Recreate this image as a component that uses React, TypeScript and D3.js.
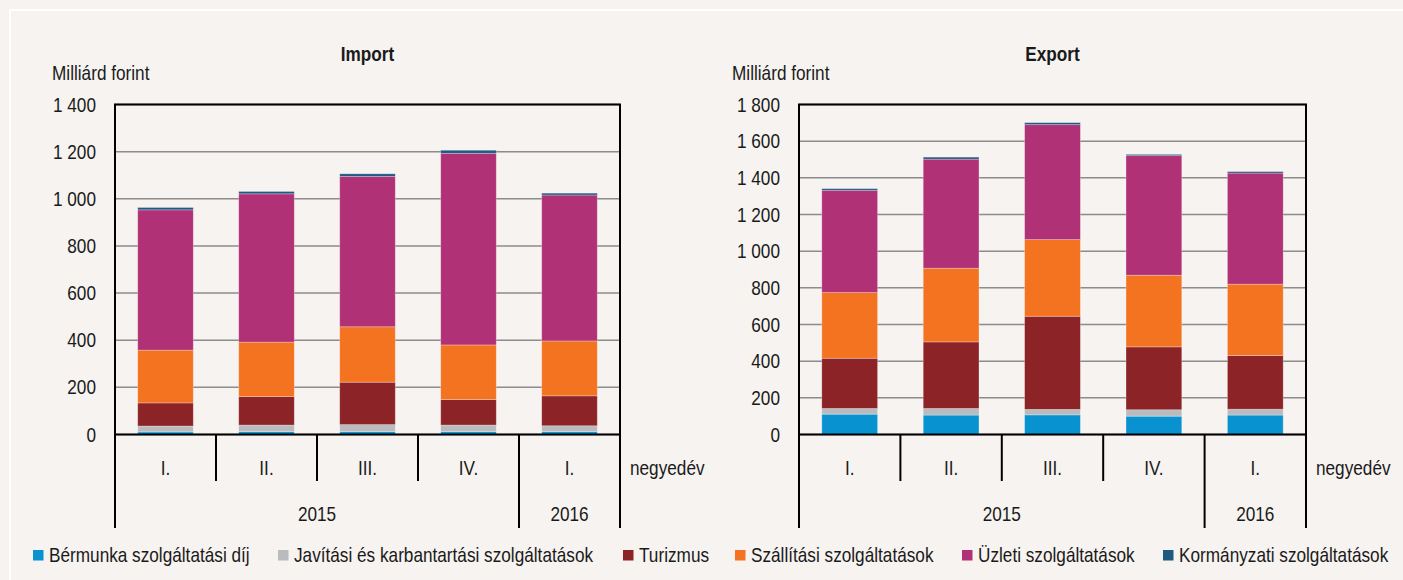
import React from 'react';
import * as d3 from 'd3';

// categories
const quarters = ['I.', 'II.', 'III.', 'IV.', 'I.'];
const years = ['2015', '2016'];
const yearSpans = [4, 1];

const seriesNames = [
  'Bérmunka szolgáltatási díj',
  'Javítási és karbantartási szolgáltatások',
  'Turizmus',
  'Szállítási szolgáltatások',
  'Üzleti szolgáltatások',
  'Kormányzati szolgáltatások',
];
const seriesColors = ['#0892d0', '#b9bbbe', '#8b2327', '#f37321', '#b03176', '#1f5a82'];

// Import, milliárd forint
const importBermunka = [11, 12, 12, 12, 12];
const importJavitasi = [25, 28, 30, 28, 25];
const importTurizmus = [98, 121, 180, 108, 127];
const importSzallitasi = [224, 231, 235, 232, 233];
const importUzleti = [595, 629, 638, 813, 619];
const importKormanyzati = [10, 10, 11, 13, 8];

// Export, milliárd forint
const exportBermunka = [111, 106, 107, 100, 106];
const exportJavitasi = [31, 36, 30, 35, 32];
const exportTurizmus = [274, 363, 508, 343, 293];
const exportSzallitasi = [358, 402, 418, 391, 389];
const exportUzleti = [558, 595, 627, 652, 606];
const exportKormanyzati = [9, 11, 11, 7, 8];

const importMax = 1400;
const exportMax = 1800;

const FONT = '"Liberation Sans", Arial, sans-serif';
const TEXT = '#1a1a1a';
const BG = '#f6f3f0';
const SQUEEZE = 0.86; // no narrow font installed, so squeeze the regular one

const fmt = d3.formatLocale({ decimal: ',', thousands: '\u00a0', grouping: [3], currency: ['', ''] }).format(',d');

// legend layout
const legendX = [33, 278, 623, 735, 962, 1163];

// condensed text
function T({ x, y, anchor = 'start', bold = false, children }: any) {
  return (
    <text
      transform={`translate(${x},${y}) scale(${SQUEEZE},1)`}
      textAnchor={anchor}
      fontWeight={bold ? 'bold' : 'normal'}
      fontSize={20}
      fill={TEXT}
    >
      {children}
    </text>
  );
}

type PanelProps = {
  title: string;
  left: number;
  right: number;
  yMax: number;
  unitX: number;
  series: number[][];
};

function Panel({ title, left, right, yMax, unitX, series }: PanelProps) {
  const top = 104.5;
  const bottom = 434.5;
  const x = d3
    .scaleBand<string>()
    .domain(quarters.map((_, i) => String(i)))
    .range([left, right])
    .paddingInner(0.45)
    .paddingOuter(0.225);
  const y = d3.scaleLinear().domain([0, yMax]).range([bottom, top]);

  const rows = quarters.map((_, i) => series.map((s) => s[i]));
  const stacked = d3
    .stack<number[], number>()
    .keys(d3.range(series.length))
    .value((d, k) => d[k])(rows);

  const ticks = d3.range(0, yMax + 1, 200);
  const step = x.step();
  const yearBounds = [0, ...d3.cumsum(yearSpans)];

  return (
    <g>
      <T x={(left + right) / 2} y={61} anchor="middle" bold>
        {title}
      </T>
      <T x={unitX} y={80}>
        Milliárd forint
      </T>

      {/* gridlines */}
      {ticks.map((t) => (
        <line key={t} x1={left} x2={right} y1={y(t)} y2={y(t)} stroke="#8c8c8c" strokeWidth={1.5} />
      ))}
      {ticks.map((t) => (
        <T key={'l' + t} x={left - 19} y={y(t) + 7} anchor="end">
          {fmt(t)}
        </T>
      ))}

      {/* bars */}
      {stacked.map((layer, si) => (
        <g key={si} fill={seriesColors[si]}>
          {layer.map((d, i) => (
            <rect
              key={i}
              x={x(String(i))}
              width={x.bandwidth()}
              y={y(d[1])}
              height={Math.max(0, y(d[0]) - y(d[1]))}
              stroke="rgba(255,255,255,0.35)"
              strokeWidth={0.8}
            />
          ))}
        </g>
      ))}

      {/* plot frame */}
      <rect x={left} y={top} width={right - left} height={bottom - top} fill="none" stroke="#000" strokeWidth={2} />

      {/* category axis */}
      {d3.range(quarters.length + 1).map((i) => {
        const long = yearBounds.includes(i);
        return (
          <line key={'t' + i} x1={left + i * step} x2={left + i * step} y1={bottom} y2={long ? 528 : 481} stroke="#000" strokeWidth={2} />
        );
      })}
      {quarters.map((q, i) => (
        <T key={'q' + i} x={(x(String(i)) ?? 0) + x.bandwidth() / 2} y={475} anchor="middle">
          {q}
        </T>
      ))}
      {years.map((yr, i) => (
        <T key={yr} x={left + ((yearBounds[i] + yearBounds[i + 1]) / 2) * step} y={521} anchor="middle">
          {yr}
        </T>
      ))}
      <T x={right + 10} y={475}>
        negyedév
      </T>
    </g>
  );
}

export default function App() {
  const importSeries = [importBermunka, importJavitasi, importTurizmus, importSzallitasi, importUzleti, importKormanyzati];
  const exportSeries = [exportBermunka, exportJavitasi, exportTurizmus, exportSzallitasi, exportUzleti, exportKormanyzati];

  return (
    <div style={{ position: 'absolute', left: 0, top: 0 }}>
      <svg width={1403} height={580} style={{ display: 'block', fontFamily: FONT }}>
        <rect x={0} y={0} width={1403} height={580} fill={BG} />
        <rect x={10} y={10} width={1400} height={580} fill="none" stroke="#fff" strokeWidth={2} />

        <Panel title="Import" left={115} right={620} yMax={importMax} unitX={52} series={importSeries} />
        <Panel title="Export" left={799} right={1306} yMax={exportMax} unitX={732} series={exportSeries} />

        {/* legend */}
        {seriesNames.map((name, i) => (
          <g key={name}>
            <rect x={legendX[i]} y={550} width={10.5} height={10.5} fill={seriesColors[i]} />
            <T x={legendX[i] + 16} y={562}>
              {name}
            </T>
          </g>
        ))}
      </svg>
    </div>
  );
}
